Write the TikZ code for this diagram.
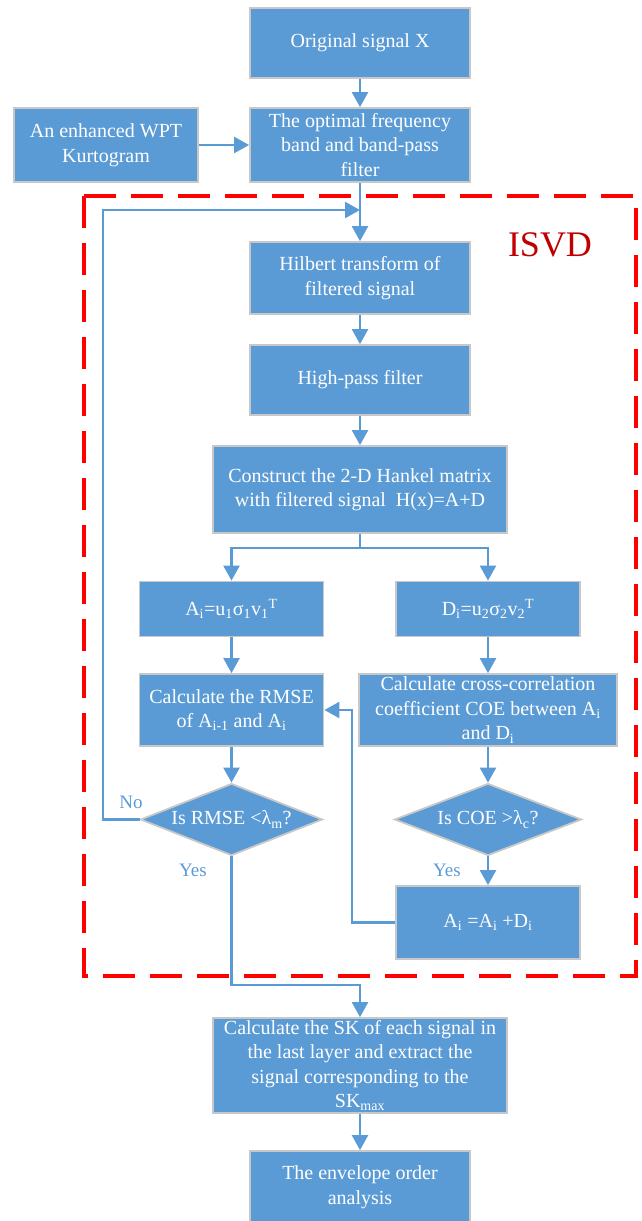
\documentclass[tikz,border=0pt]{standalone}
\usepackage{fontspec}
\setmainfont{Liberation Serif}
\usetikzlibrary{arrows.meta,shapes.geometric}
\definecolor{boxblue}{HTML}{5B9BD5}
\definecolor{lineblue}{HTML}{5B9BD5}
\definecolor{boxgray}{RGB}{200,200,200}
\definecolor{isvdred}{HTML}{C00000}
\definecolor{dashred}{HTML}{FF0000}
\newcommand{\boxfs}{\fontsize{20}{24.5}\selectfont}
\newcommand{\sbs}[1]{\textsubscript{#1}}
\newcommand{\sps}[1]{\textsuperscript{#1}}
\begin{document}
\begin{tikzpicture}[x=1pt,y=-1pt,
  box/.style={draw=boxgray, line width=1.8pt, fill=boxblue, text=white, font=\boxfs,
    align=center, inner sep=0pt},
  stdbox/.style={box, minimum width=220pt, minimum height=70pt},
  dia/.style={shape=diamond, draw=boxgray, line width=1.8pt, fill=boxblue, text=white,
    font=\boxfs, inner sep=0pt, aspect=2.5},
  conn/.style={draw=lineblue, line width=2.4pt},
  arr/.style={conn, -{Triangle[length=15pt,width=16pt]}},
  lbl/.style={text=lineblue, font=\fontsize{19}{22}\selectfont, inner sep=0pt},
  isvdbox/.style={draw=dashred, line width=4pt, dash pattern=on 32pt off 15pt}]
\useasboundingbox (0,0) rectangle (641,1221);

% ISVD frame
\draw[isvdbox] (84,196) rectangle (636,976);
\node[text=isvdred, font=\fontsize{36}{40}\selectfont, inner sep=0pt] (isvd) at (550,244.5) {ISVD};

% nodes
\node[stdbox] (orig) at (360,43) {Original signal X};
\node[box, minimum width=184pt, minimum height=74pt] (wpt) at (106,145) {An enhanced WPT\\Kurtogram};
\node[box, minimum width=220pt, minimum height=74pt] (opt) at (360,145) {The optimal frequency\\band and band-pass\\filter};
\node[stdbox, minimum height=72pt] (hil) at (360,278) {Hilbert transform of\\filtered signal};
\node[stdbox] (hp) at (360,380) {High-pass filter};
\node[box, minimum width=294pt, minimum height=87pt] (hank) at (360,489.5) {Construct the 2-D Hankel matrix\\with filtered signal\ \ H(x)=A+D};
\node[box, minimum width=184pt, minimum height=55pt] (ai) at (231.5,609) {A\sbs{i}=u\sbs{1}σ\sbs{1}v\sbs{1}\sps{T}};
\node[box, minimum width=184pt, minimum height=55pt] (di) at (488,609) {D\sbs{i}=u\sbs{2}σ\sbs{2}v\sbs{2}\sps{T}};
\node[box, minimum width=184pt, minimum height=72pt] (rmse) at (231.5,710) {Calculate the RMSE\\of A\sbs{i-1} and A\sbs{i}};
\node[box, minimum width=258pt, minimum height=72pt] (cross) at (488,710) {Calculate cross-correlation\\coefficient COE between A\sbs{i}\\and D\sbs{i}};
\node[dia, minimum width=182pt, minimum height=72pt] (d1) at (231.5,819.5) {Is RMSE <λ\sbs{m}?};
\node[dia, minimum width=187pt, minimum height=72pt] (d2) at (488,819.5) {Is COE >λ\sbs{c}?};
\node[box, minimum width=184pt, minimum height=73pt] (aiadd) at (488,922.5) {A\sbs{i} =A\sbs{i} +D\sbs{i}};
\node[box, minimum width=294pt, minimum height=95pt] (sk) at (360,1065.5) {Calculate the SK of each signal in\\the last layer and extract the\\signal corresponding to the\\SK\sbs{max}};
\node[stdbox, minimum height=72pt] (env) at (360,1187) {The envelope order\\analysis};

% labels
\node[lbl] (no) at (131,802) {No};
\node[lbl] (yes1) at (193,870) {Yes};
\node[lbl] (yes2) at (447,870) {Yes};

% helper coordinates
\coordinate (loopend) at (360,210);
\coordinate (lp1) at (103,819.5);
\coordinate (split) at (360,548);
\coordinate (fb1) at (352,922.5);
\coordinate (yb1) at (231.5,985);

% connectors
\draw[arr] (orig) -- (opt);
\draw[arr] (wpt) -- (opt);
\draw[arr] (opt) -- (hil);
\draw[arr] (d1.west) -- (lp1) |- (loopend);
\draw[arr] (hil) -- (hp);
\draw[arr] (hp) -- (hank);
\draw[conn] (hank.south) -- (split);
\draw[arr] (split) -| (ai.north);
\draw[arr] (split) -| (di.north);
\draw[arr] (ai) -- (rmse);
\draw[arr] (di) -- (cross);
\draw[arr] (rmse) -- (d1);
\draw[arr] (cross) -- (d2);
\draw[arr] (d2) -- (aiadd);
\draw[arr] (aiadd.west) -- (fb1) |- (rmse.east);
\draw[arr] (d1.south) -- (yb1) -| (sk.north);
\draw[arr] (sk) -- (env);
\end{tikzpicture}
\end{document}
